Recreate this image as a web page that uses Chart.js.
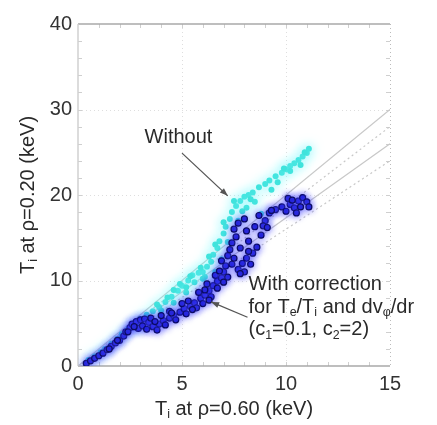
<!DOCTYPE html>
<html>
<head>
<meta charset="utf-8">
<script src="https://cdn.jsdelivr.net/npm/chart.js@4.4.1/dist/chart.umd.min.js"></script>
<style>
  html, body { margin: 0; padding: 0; background: #fff; }
  #wrap { width: 437px; height: 425px; }
</style>
</head>
<body>
<div id="wrap"><canvas id="chart"></canvas></div>
<script>
    // tick values
    const xTicks = [0, 5, 10, 15];
    const yTicks = [0, 10, 20, 30, 40];

    // "Without" points (x = Ti at rho 0.60, y = Ti at rho 0.20)
    const withoutPoints = [
        [0.5,0.7],[0.8,1.1],[1.1,1.6],[1.3,2.0],[1.6,2.6],[1.9,3.2],[2.1,3.7],[2.4,4.3],[2.7,4.9],[3.0,5.5],
        [3.3,6.0],[3.6,6.4],[3.9,6.9],[4.2,7.5],[4.5,8.1],[4.8,8.8],[5.0,9.4],[5.3,10.0],[5.5,10.6],[5.8,10.9],
        [6.0,11.0],[6.2,11.6],[6.4,12.2],[6.5,13.0],[6.7,13.8],[6.8,14.6],[7.0,15.5],[7.1,16.3],[7.3,17.2],[7.4,18.0],
        [7.6,18.7],[7.8,19.3],[8.0,19.8],[8.2,20.0],[8.4,20.3],[8.7,20.9],[9.0,21.3],[9.2,21.7],[9.5,22.2],[9.8,22.6],
        [10.0,23.0],[10.2,23.4],[10.4,23.7],[10.6,24.1],[10.8,24.5],[11.0,24.9],[11.1,25.4],
        [5.6,9.8],[6.1,10.4],[6.6,11.0],[6.9,12.5],[7.2,14.5],[7.7,17.0],[8.1,18.5],[8.5,19.2],[8.8,17.8],
        [4.0,6.5],[4.6,7.4],[5.2,8.6],[3.5,5.4],[2.9,4.6],
        [4.3,8.0],[4.9,9.6],[5.4,10.5],[5.9,11.5],[6.3,12.8],[6.6,14.2],[7.0,16.8],[7.5,19.3],[8.3,19.5],[9.6,21.5],
        [10.2,22.8],[10.7,23.5],[3.8,7.2],[4.6,8.9],[5.2,9.2],[6.0,10.2],[9.3,20.6],[9.9,23.1],[10.9,25.0],[7.9,18.1]
    ];

    // "With correction" points
    const withPoints = [
        [0.4,0.3],[0.6,0.6],[0.8,0.9],[1.0,1.2],[1.2,1.5],[1.4,1.9],[1.6,2.3],[1.8,2.7],[2.0,3.0],[2.2,3.5],
        [2.3,4.0],[2.5,4.5],[2.6,4.9],[2.8,5.2],[3.0,5.4],[3.2,5.5],[3.4,5.1],[2.9,4.4],[3.1,4.7],[3.3,4.3],
        [3.6,4.6],[3.8,4.2],[3.9,4.9],[4.1,5.3],[4.2,4.8],[4.4,5.6],[4.6,5.9],[4.7,5.4],[4.9,6.3],[5.1,6.7],
        [5.2,6.1],[5.4,7.0],[5.6,7.4],[5.7,6.8],[5.9,7.9],[6.0,7.3],[6.1,8.3],[6.3,8.8],[6.4,8.1],[6.5,9.4],
        [6.7,9.9],[6.6,10.6],[6.9,10.3],[7.0,11.0],[7.1,11.7],[6.9,12.3],[7.2,12.9],[7.3,13.6],[7.4,14.4],[7.6,15.1],
        [7.5,16.0],[7.7,16.7],[7.4,11.9],[7.7,11.3],[7.9,12.0],[8.1,12.6],[8.3,11.9],[8.0,11.0],[8.4,13.2],[8.6,13.9],
        [8.2,14.6],[8.8,15.3],[8.5,16.3],[8.0,17.2],[9.0,17.0],[8.7,17.6],[9.2,17.9],[9.5,18.3],[9.8,18.6],[10.0,18.1],
        [10.2,18.9],[10.4,18.5],[10.6,19.3],[10.8,19.7],[11.0,19.2],[11.1,18.6],[10.5,17.9],[10.1,19.6],[9.3,18.2],[6.8,11.1],
        [6.2,9.6],[5.8,8.6],[5.0,7.3],[4.4,6.4],[3.5,5.6],[7.8,13.8],[8.1,15.8],[7.2,10.4],
        [1.5,2.0],[1.9,3.0],[2.4,4.0],[2.7,4.6],[3.7,5.2],[4.0,5.9],[4.5,6.2],[5.3,7.6],[5.5,6.6],[6.1,8.9],
        [6.3,7.7],[6.7,9.1],[7.0,9.8],[7.5,12.6],[7.8,10.8],[8.2,13.4],[8.9,16.4],[9.1,16.2],[10.3,19.4],[10.7,18.6]
    ];

    // reference lines from the origin: value reached at x = 15, and dash style
    const refEndY = [30, 28, 26, 24];
    const refDotted = [false, true, false, true];

    // annotation anchors in data units
    const withoutLabel = [3.2, 26.7];
    const withoutArrow = [[5.0, 24.9], [7.2, 19.9]];
    const withLabel = [8.2, 9.5];
    const withArrow = [[8.15, 5.7], [6.4, 7.5]];

    let ref_datasets = refEndY.map(function(v, i) {
        return {
            label: 'ref' + i,
            data: [{x: 0, y: 0}, {x: 15, y: v}],
            showLine: true,
            pointRadius: 0,
            borderColor: '#c8c8c8',
            borderWidth: 1.2,
            borderDash: refDotted[i] ? [2, 3] : [],
            order: 5
        };
    });

    let halos = {
        'Without': {color: 'rgba(110,240,245,1)', blur: 12},
        'With correction': {color: 'rgba(70,70,255,0.85)', blur: 7}
    };

    function rich(ctx, parts, x, y, size, align) {
        // parts: [text, isSub]
        let w = 0;
        parts.forEach(function(p) {
            ctx.font = (p[1] ? size * 0.62 : size) + 'px "Liberation Sans", Arial, sans-serif';
            w += ctx.measureText(p[0]).width;
        });
        let cx = align === 'center' ? x - w / 2 : x;
        ctx.textBaseline = 'middle';
        ctx.textAlign = 'left';
        parts.forEach(function(p) {
            ctx.font = (p[1] ? size * 0.62 : size) + 'px "Liberation Sans", Arial, sans-serif';
            ctx.fillText(p[0], cx, p[1] ? y + size * 0.28 : y);
            cx += ctx.measureText(p[0]).width;
        });
    }

    function arrow(ctx, x0, y0, x1, y1) {
        ctx.save();
        ctx.strokeStyle = '#555';
        ctx.fillStyle = '#555';
        ctx.lineWidth = 1.3;
        ctx.beginPath();
        ctx.moveTo(x0, y0);
        ctx.lineTo(x1, y1);
        ctx.stroke();
        let ang = Math.atan2(y1 - y0, x1 - x0);
        ctx.beginPath();
        ctx.moveTo(x1, y1);
        ctx.lineTo(x1 - 8 * Math.cos(ang) + 3 * Math.sin(ang), y1 - 8 * Math.sin(ang) - 3 * Math.cos(ang));
        ctx.lineTo(x1 - 8 * Math.cos(ang) - 3 * Math.sin(ang), y1 - 8 * Math.sin(ang) + 3 * Math.cos(ang));
        ctx.closePath();
        ctx.fill();
        ctx.restore();
    }

    const decor = {
        id: 'decor',
        beforeDatasetsDraw(chart) {
            let ctx = chart.ctx, a = chart.chartArea;
            let xs = chart.scales.x, ys = chart.scales.y;
            ctx.save();
            // dotted grid
            ctx.strokeStyle = 'rgba(0,0,0,0.13)';
            ctx.lineWidth = 1;
            ctx.setLineDash([1, 3]);
            xTicks.slice(1, -1).forEach(function(v) {
                let px = Math.round(xs.getPixelForValue(v)) + 0.5;
                ctx.beginPath(); ctx.moveTo(px, a.top); ctx.lineTo(px, a.bottom); ctx.stroke();
            });
            yTicks.slice(1, -1).forEach(function(v) {
                let py = Math.round(ys.getPixelForValue(v)) + 0.5;
                ctx.beginPath(); ctx.moveTo(a.left, py); ctx.lineTo(a.right, py); ctx.stroke();
            });
            // right border dotted
            ctx.strokeStyle = '#bbb';
            ctx.beginPath(); ctx.moveTo(a.right + 0.5, a.top); ctx.lineTo(a.right + 0.5, a.bottom); ctx.stroke();
            ctx.setLineDash([]);
            // minor ticks
            ctx.strokeStyle = '#cfcfcf';
            for (let v = 1; v < 15; v++) {
                let px = Math.round(xs.getPixelForValue(v)) + 0.5;
                ctx.beginPath(); ctx.moveTo(px, a.top); ctx.lineTo(px, a.top + 4); ctx.stroke();
                ctx.beginPath(); ctx.moveTo(px, a.bottom); ctx.lineTo(px, a.bottom - 4); ctx.stroke();
            }
            for (let v = 2; v < 40; v += 2) {
                let py = Math.round(ys.getPixelForValue(v)) + 0.5;
                ctx.beginPath(); ctx.moveTo(a.left, py); ctx.lineTo(a.left + 4, py); ctx.stroke();
                ctx.beginPath(); ctx.moveTo(a.right, py); ctx.lineTo(a.right - 4, py); ctx.stroke();
            }
            // frame
            ctx.strokeStyle = '#a8a8a8';
            ctx.lineWidth = 1.5;
            ctx.beginPath(); ctx.moveTo(a.left, a.top); ctx.lineTo(a.right, a.top); ctx.stroke();
            ctx.beginPath(); ctx.moveTo(a.left, a.bottom); ctx.lineTo(a.right, a.bottom); ctx.stroke();
            ctx.strokeStyle = '#d0d0d0';
            ctx.beginPath(); ctx.moveTo(a.left, a.top); ctx.lineTo(a.left, a.bottom); ctx.stroke();
            ctx.restore();
        },
        beforeDatasetDraw(chart, args) {
            let h = halos[chart.data.datasets[args.index].label];
            chart.ctx.save();
            if (h) {
                chart.ctx.shadowColor = h.color;
                chart.ctx.shadowBlur = h.blur;
            }
        },
        afterDatasetDraw(chart) {
            chart.ctx.restore();
        },
        afterDraw(chart) {
            let ctx = chart.ctx, a = chart.chartArea;
            let xs = chart.scales.x, ys = chart.scales.y;
            let P = function(p) { return [xs.getPixelForValue(p[0]), ys.getPixelForValue(p[1])]; };
            ctx.save();
            ctx.fillStyle = '#2a2a2a';
            // axis titles
            rich(ctx, [['T', false], ['i', true], [' at \u03c1=0.60 (keV)', false]], (a.left + a.right) / 2, a.bottom + 43, 20, 'center');
            ctx.save();
            ctx.translate(28, (a.top + a.bottom) / 2);
            ctx.rotate(-Math.PI / 2);
            rich(ctx, [['T', false], ['i', true], [' at \u03c1=0.20 (keV)', false]], 0, 0, 20, 'center');
            ctx.restore();
            // "Without"
            let wl = P(withoutLabel);
            rich(ctx, [['Without', false]], wl[0], wl[1], 20, 'left');
            let w0 = P(withoutArrow[0]), w1 = P(withoutArrow[1]);
            arrow(ctx, w0[0], w0[1], w1[0], w1[1]);
            // "With correction"
            let cl = P(withLabel);
            rich(ctx, [['With correction', false]], cl[0], cl[1], 20, 'left');
            rich(ctx, [['for T', false], ['e', true], ['/T', false], ['i', true], [' and dv', false], ['\u03c6', true], ['/dr', false]], cl[0], cl[1] + 22.5, 20, 'left');
            rich(ctx, [['(c', false], ['1', true], ['=0.1, c', false], ['2', true], ['=2)', false]], cl[0], cl[1] + 45, 20, 'left');
            let c0 = P(withArrow[0]), c1 = P(withArrow[1]);
            arrow(ctx, c0[0], c0[1], c1[0], c1[1]);
            ctx.restore();
        }
    };

    let chart_el = document.getElementById('chart');
    new Chart(chart_el, {
        type: 'scatter',
        data: {
            datasets: [
                {
                    label: 'With correction',
                    data: withPoints.map(function(p) { return {x: p[0], y: p[1]}; }),
                    pointRadius: 3,
                    pointBackgroundColor: '#2222d4',
                    pointBorderColor: '#0c0c62',
                    pointBorderWidth: 1.2,
                    order: 1
                },
                {
                    label: 'Without',
                    data: withoutPoints.map(function(p) { return {x: p[0], y: p[1]}; }),
                    pointRadius: 3,
                    pointBackgroundColor: '#3fe3dc',
                    pointBorderWidth: 0,
                    order: 2
                }
            ].concat(ref_datasets)
        },
        options: {
            responsive: true,
            maintainAspectRatio: false,
            animation: false,
            layout: { padding: { left: 0, right: 47, top: 24, bottom: 0 } },
            plugins: {
                legend: { display: false },
                tooltip: { enabled: false }
            },
            scales: {
                x: {
                    type: 'linear',
                    min: 0,
                    max: 15,
                    afterBuildTicks: function(scale) { scale.ticks = xTicks.map(function(v) { return {value: v}; }); },
                    afterFit: function(scale) { scale.height = 59; },
                    grid: { display: false, drawTicks: false },
                    border: { display: false },
                    ticks: { color: '#333', padding: 6, maxRotation: 0, font: { size: 20, family: '"Liberation Sans", Arial, sans-serif' } }
                },
                y: {
                    type: 'linear',
                    min: 0,
                    max: 40,
                    afterBuildTicks: function(scale) { scale.ticks = yTicks.map(function(v) { return {value: v}; }); },
                    afterFit: function(scale) { scale.width = 78; },
                    grid: { display: false, drawTicks: false },
                    border: { display: false },
                    ticks: { color: '#333', padding: 6, font: { size: 20, family: '"Liberation Sans", Arial, sans-serif' } }
                }
            }
        },
        plugins: [decor]
    });
</script>
</body>
</html>
